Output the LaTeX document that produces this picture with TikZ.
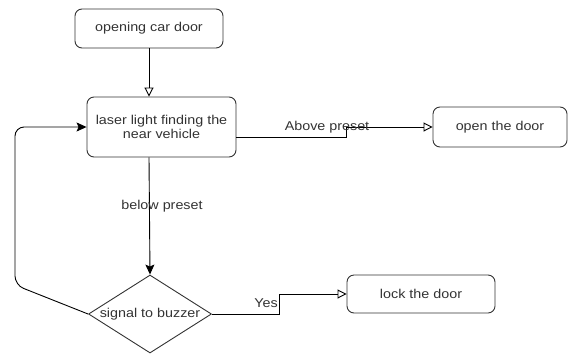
\documentclass[tikz,border=0pt]{standalone}
\usepackage{fontspec}
\setmainfont{Liberation Sans}[FakeStretch=1.12]
\usetikzlibrary{arrows.meta,shapes.geometric}
\definecolor{ink}{HTML}{333333}
\begin{document}
\begin{tikzpicture}[x=1pt,y=-1pt,
  font=\fontsize{12.8}{13.5}\selectfont,
  box/.style={draw=ink, text=ink, line width=0.9pt, rounded corners=7pt, align=center, inner sep=0pt},
  line/.style={draw=black, line width=0.9pt},
  openarr/.style={line, -{Triangle[open, length=9pt, width=9pt]}},
  fullarr/.style={line, -{Stealth[length=10pt, width=9pt, inset=2pt]}},
  lbl/.style={text=ink, inner sep=0pt}]
\path[fill=white] (0,0) rectangle (569,354);
\useasboundingbox (0,0) rectangle (569,354);
\node[box, minimum width=148pt, minimum height=39pt] (b1) at (149,28.5) {opening car door};
\node[box, minimum width=149pt, minimum height=60pt] (b2) at (161.5,127) {laser light finding the\\near vehicle};
\node[box, minimum width=134pt, minimum height=40pt] (b3) at (500,127) {open the door};
\node[box, minimum width=148pt, minimum height=38pt] (b4) at (421,294) {lock the door};
\node[diamond, draw=ink, text=ink, line width=0.9pt, minimum width=123pt, minimum height=78pt, inner sep=0pt] (d) at (150,314) {\makebox[0pt]{signal to buzzer}};
\coordinate (c1) at (346,137);
\coordinate (c2) at (279,314);
\draw[openarr] (b1.south) -- (b1.south |- b2.north);
\draw[openarr] ([yshift=-10pt]b2.east) -- (c1) |- (b3.west);
\draw[fullarr] (b2.south -| b1.south) -- (d.north);
\draw[fullarr, rounded corners=9pt] (d.west) -- (15,285) -- (15,127) -- (b2.west);
\draw[openarr] (d.east) -- (c2) |- (b4.west);
\node[lbl] (la) at (327,127) {Above preset};
\node[lbl] (lb) at (162,206) {below preset};
\node[lbl] (ly) at (266,303) {Yes};
\end{tikzpicture}
\end{document}
